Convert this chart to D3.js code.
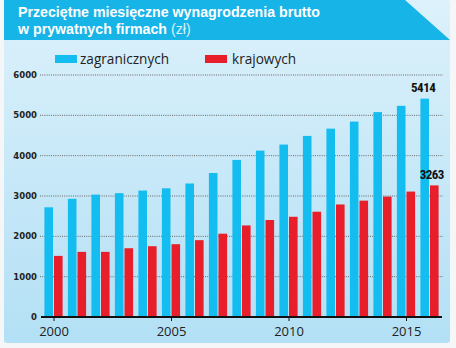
<!DOCTYPE html>
<html><head><meta charset="utf-8">
<script src="https://cdn.jsdelivr.net/npm/d3@7"></script>
<style>body{margin:0;background:#f4f6f7;}svg{display:block;}</style>
</head><body>
<svg id="c" width="456" height="348"></svg>
<script>
const years = [2000,2001,2002,2003,2004,2005,2006,2007,2008,2009,2010,2011,2012,2013,2014,2015,2016];
const foreign = [2720,2930,3035,3070,3135,3190,3310,3570,3895,4125,4275,4490,4670,4845,5080,5235,5414];
const domestic = [1515,1615,1615,1705,1755,1805,1905,2065,2270,2405,2485,2610,2790,2885,2985,3110,3263];
const yTicks = [0,1000,2000,3000,4000,5000,6000];
const xTickYears = [2000,2005,2010,2015];
const seriesNames = ["zagranicznych","krajowych"];
const colors = ["#14bdf0","#e81e2b"];

const svg = d3.select("#c");
const defs = svg.append("defs");
const g1 = defs.append("linearGradient").attr("id","bg").attr("x1",0).attr("y1",0).attr("x2",0).attr("y2",1);
g1.append("stop").attr("offset","0%").attr("stop-color","#dcf1fb");
g1.append("stop").attr("offset","100%").attr("stop-color","#b3e0f5");

// panel
svg.append("rect").attr("x",4).attr("y",0).attr("width",446).attr("height",343).attr("rx",3).attr("fill","url(#bg)");
// title band
svg.append("path").attr("d","M4,0 L405,0 L450,40 L4,40 Z").attr("fill","#17b4e8");
const tf = "Liberation Sans, Arial, sans-serif";
svg.append("text").attr("x",18).attr("y",17).attr("font-family",tf).attr("font-weight","bold").attr("font-size",14.2).attr("fill","#fff")
  .text("Przeciętne miesięczne wynagrodzenia brutto");
const t2 = svg.append("text").attr("x",18).attr("y",34).attr("font-family",tf).attr("font-weight","bold").attr("font-size",14.2).attr("fill","#fff");
t2.append("tspan").text("w prywatnych firmach ");
t2.append("tspan").attr("font-weight","normal").attr("fill","#d9f2fc").text("(zł)");

// scales
const x = d3.scaleLinear().domain([2000,2016]).range([53.5,429.5]);
const y = d3.scaleLinear().domain([0,6000]).range([317,75]);
const bw = 8.6;

// grid
svg.append("g").selectAll("line").data(yTicks.filter(d=>d>0)).join("line")
  .attr("x1",40).attr("x2",443).attr("y1",d=>y(d)).attr("y2",d=>y(d))
  .attr("stroke","#666").attr("stroke-width",1).attr("stroke-dasharray","1,1.2");

// y labels
svg.append("g").selectAll("text").data(yTicks).join("text")
  .attr("x",37).attr("y",d=>y(d)+3).attr("text-anchor","end")
  .attr("font-family","DejaVu Sans, sans-serif").attr("font-weight","bold").attr("font-size",8.5).attr("fill","#222")
  .text(d=>d);

// bars
svg.append("g").selectAll("rect").data(years).join("rect")
  .attr("x",(d)=>x(d)-bw-0.5).attr("width",bw)
  .attr("y",(d,i)=>y(foreign[i])).attr("height",(d,i)=>y(0)-y(foreign[i]))
  .attr("fill",colors[0]);
svg.append("g").selectAll("rect").data(years).join("rect")
  .attr("x",(d)=>x(d)+0.5).attr("width",bw)
  .attr("y",(d,i)=>y(domestic[i])).attr("height",(d,i)=>y(0)-y(domestic[i]))
  .attr("fill",colors[1]);

// axis
const xAxis = d3.axisBottom(x).tickValues(xTickYears).tickSize(4).tickFormat(d3.format("d"));
const ax = svg.append("g").attr("transform",`translate(0,${y(0)})`).call(xAxis);
ax.select(".domain").remove();
ax.append("line").attr("x1",41).attr("x2",442).attr("stroke","#111").attr("stroke-width",2);
ax.selectAll(".tick line").attr("stroke","#111");
ax.selectAll(".tick text").attr("font-family","Open Sans, sans-serif").attr("font-size",13).attr("fill","#222").attr("dy","0.9em");

// value labels
const last = years.length-1;
svg.append("text").attr("x",x(years[last])-bw/2-2).attr("y",y(foreign[last])-7).attr("text-anchor","middle")
  .attr("font-family","Liberation Sans Narrow, Roboto Condensed, sans-serif").attr("font-weight","bold").attr("font-size",13).attr("letter-spacing","-0.5").attr("fill","#111").text(foreign[last]);
svg.append("text").attr("x",x(years[last])+bw/2-2).attr("y",y(domestic[last])-6).attr("text-anchor","middle")
  .attr("font-family","Liberation Sans Narrow, Roboto Condensed, sans-serif").attr("font-weight","bold").attr("font-size",13).attr("letter-spacing","-0.5").attr("fill","#111").text(domestic[last]);

// legend
const lg = [[55,80],[205,232]];
seriesNames.forEach((n,i)=>{
  svg.append("rect").attr("x",lg[i][0]).attr("y",55).attr("width",22).attr("height",8).attr("fill",colors[i]);
  svg.append("text").attr("x",lg[i][1]).attr("y",64).attr("font-family","Open Sans, sans-serif").attr("font-size",13.6).attr("fill","#222").text(n);
});
</script>
</body></html>
